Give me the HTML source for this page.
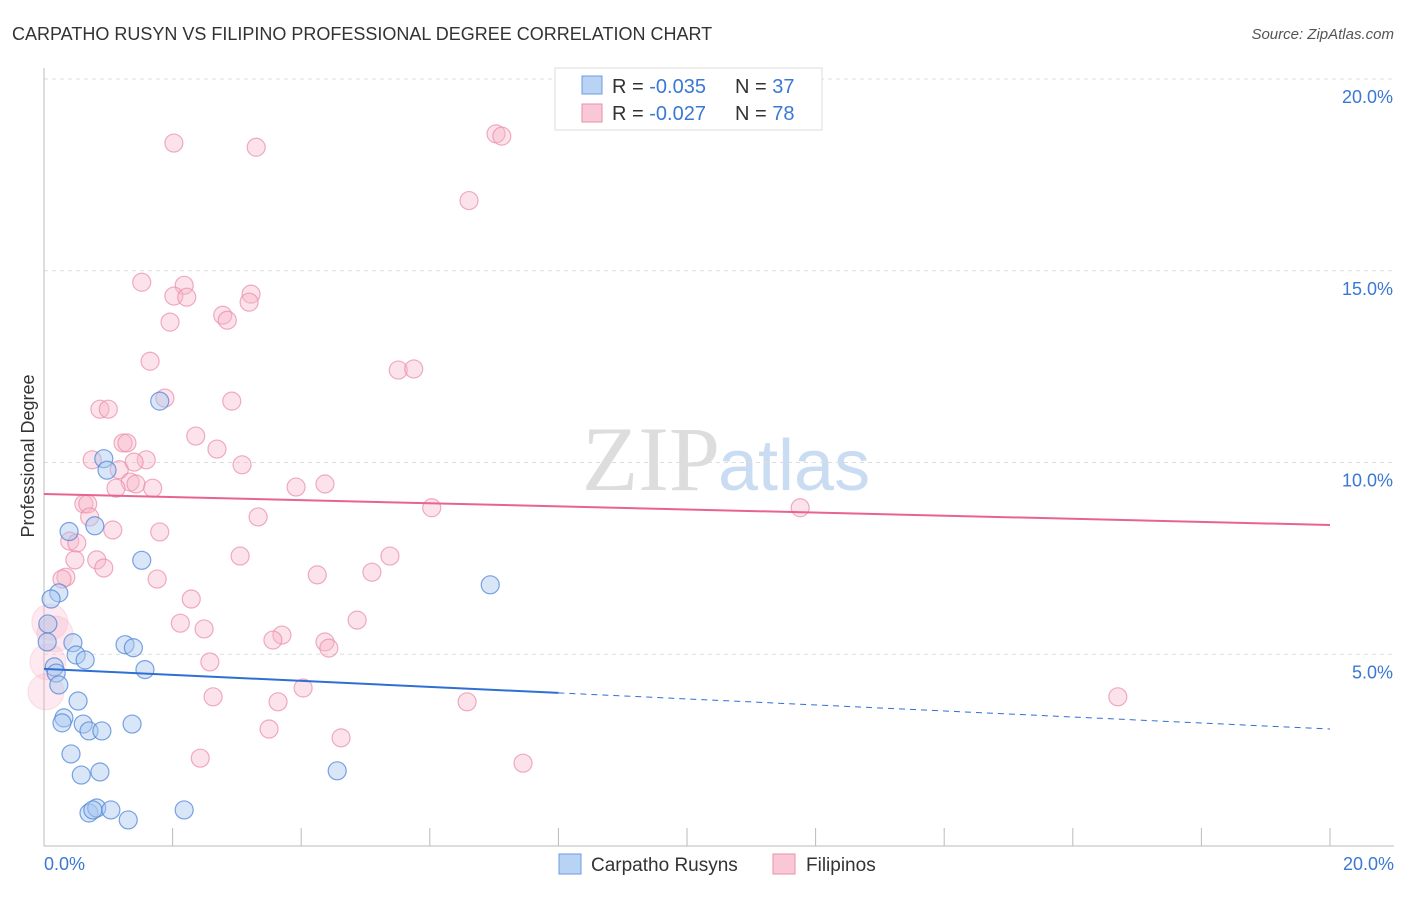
<!DOCTYPE html>
<html><head><meta charset="utf-8"><style>
body{margin:0;background:#fff;font-family:"Liberation Sans",sans-serif}
</style></head><body>
<svg width="1406" height="892" viewBox="0 0 1406 892" xmlns="http://www.w3.org/2000/svg">
<text x="12" y="40" font-size="18" fill="#333">CARPATHO RUSYN VS FILIPINO PROFESSIONAL DEGREE CORRELATION CHART</text>
<text x="1394" y="39" font-size="15" fill="#555" font-style="italic" text-anchor="end">Source: ZipAtlas.com</text>
<text x="720" y="490" font-size="92" fill="#ddd" font-family="Liberation Serif,serif" text-anchor="end">ZIP</text>
<text x="718" y="490" font-size="72" fill="#c9dcf2">atlas</text>
<g id="grid"></g>
<line x1="44" y1="68" x2="44" y2="846" stroke="#bbb"/>
<line x1="44" y1="846" x2="1394" y2="846" stroke="#bbb"/>
<g id="ticks"></g>
<g id="pts"></g>
<g id="trend"></g>
<text transform="translate(34,456) rotate(-90)" font-size="18" fill="#333" text-anchor="middle">Professional Degree</text>
<text x="44" y="870" font-size="18" fill="#3a78d4">0.0%</text>
<text x="1394" y="870" font-size="18" fill="#3a78d4" text-anchor="end">20.0%</text>
<g>
<rect x="555" y="68" width="267" height="62" fill="#fff" stroke="#ddd"/>
<rect x="582" y="76" width="20" height="18" fill="#b9d3f5" stroke="#6a9be0"/>
<rect x="582" y="104" width="20" height="18" fill="#f9c8d7" stroke="#ea8fac"/>
<text x="612" y="93" font-size="20" fill="#333">R = <tspan fill="#3a78d4">-0.035</tspan><tspan x="735">N = </tspan><tspan fill="#3a78d4">37</tspan></text>
<text x="612" y="120" font-size="20" fill="#333">R = <tspan fill="#3a78d4">-0.027</tspan><tspan x="735">N = </tspan><tspan fill="#3a78d4">78</tspan></text>
</g>
<g>
<rect x="559" y="854" width="22" height="20" fill="#b9d3f5" stroke="#6a9be0"/>
<text x="591" y="871" font-size="19" fill="#333">Carpatho Rusyns</text>
<rect x="773" y="854" width="22" height="20" fill="#f9c8d7" stroke="#ea8fac"/>
<text x="806" y="871" font-size="19" fill="#333">Filipinos</text>
</g>
</svg>
<script>
const blueX=[1.8,0.93,0.98,0.39,0.79,1.52,6.94,0.23,0.11,0.06,0.45,1.26,1.39,0.05,0.5,0.64,0.16,1.57,0.19,0.23,0.53,0.31,0.28,0.61,0.7,0.9,1.37,0.42,0.58,0.87,4.56,0.7,0.82,0.76,1.04,1.31,2.18];
const blueY=[11.6,10.1,9.8,8.2,8.35,7.45,6.81,6.6,6.44,5.79,5.3,5.25,5.17,5.32,4.98,4.85,4.67,4.6,4.51,4.2,3.78,3.34,3.21,3.18,3.0,3.0,3.18,2.4,1.85,1.93,1.96,0.86,0.99,0.94,0.94,0.68,0.94];
const pinkX=[2.02,3.3,7.03,7.12,6.61,1.52,2.18,2.02,2.22,3.22,3.19,2.78,2.85,1.96,1.65,5.51,5.75,1.88,2.92,0.87,1.0,1.23,1.29,2.36,2.69,0.75,1.59,1.4,1.17,3.08,1.34,1.43,1.12,1.69,3.92,4.37,0.62,0.68,0.71,3.33,6.03,11.76,1.07,1.8,0.40,0.51,0.82,0.48,3.05,0.93,5.38,0.34,0.28,1.76,4.25,5.1,2.29,4.87,2.12,2.49,3.7,3.56,4.37,4.43,2.58,16.7,2.63,4.03,3.64,6.58,3.5,4.62,2.43,7.45,0.09,0.17,0.06,0.03];
const pinkY=[18.33,18.22,18.57,18.51,16.83,14.7,14.62,14.34,14.31,14.39,14.18,13.84,13.71,13.66,12.64,12.41,12.44,11.68,11.6,11.39,11.39,10.51,10.51,10.69,10.35,10.07,10.07,10.01,9.81,9.94,9.49,9.44,9.33,9.33,9.36,9.44,8.92,8.92,8.58,8.58,8.82,8.82,8.24,8.19,7.95,7.9,7.46,7.46,7.56,7.25,7.56,7.01,6.96,6.96,7.07,7.14,6.44,5.89,5.81,5.66,5.5,5.37,5.32,5.16,4.8,3.89,3.89,4.12,3.76,3.76,3.05,2.82,2.29,2.16,5.84,5.53,4.8,4.02];
const pinkR=[0,0,0,0,0,0,0,0,0,0,0,0,0,0,0,0,0,0,0,0,0,0,0,0,0,0,0,0,0,0,0,0,0,0,0,0,0,0,0,0,0,0,0,0,0,0,0,0,0,0,0,0,0,0,0,0,0,0,0,0,0,0,0,0,0,0,0,0,0,0,0,0,0,0,1,1,1,1];
const pinkTrend=[9.18,8.37];
const blueTrend=[4.62,3.05];
const blueSolidEnd=8;
const yTicks=[5,10,15,20];
const NS='http://www.w3.org/2000/svg';
const X=v=>44+v/20*1286;
const Y=v=>846-v/20*767;
function mk(t,a,p){const e=document.createElementNS(NS,t);for(const k in a)e.setAttribute(k,a[k]);p.appendChild(e);return e;}
const grid=document.getElementById('grid');
yTicks.forEach(t=>{
 const l=mk('line',{x1:44,x2:1394,y1:Y(t),y2:Y(t),stroke:'#ddd','stroke-dasharray':'4,4'},grid);
 
 
 const tx=mk('text',{x:1393,y:Y(t)+24,'font-size':18,fill:'#3a78d4','text-anchor':'end'},grid);
 tx.textContent=t.toFixed(1)+'%';
 
 
});
const ticks=document.getElementById('ticks');
for(let i=0;i<=10;i++){
 const l=mk('line',{x1:X(i*2),x2:X(i*2),y1:828,y2:846,stroke:'#bbb'},ticks);
 
 
}
const pts=document.getElementById('pts');
pinkX.forEach((x,i)=>{
 const c=mk('circle',{cx:X(x),cy:Y(pinkY[i]),r:pinkR[i]?18:9,fill:'#f7b6ca','fill-opacity':pinkR[i]?0.3:0.4,stroke:'#e98aa8','stroke-opacity':pinkR[i]?0.2:0.7,'stroke-width':1.2},pts);
 
 
});
blueX.forEach((x,i)=>{
 const c=mk('circle',{cx:X(x),cy:Y(blueY[i]),r:9,fill:'#a9c8f0','fill-opacity':0.45,stroke:'#4f86d8','stroke-opacity':0.75,'stroke-width':1.2},pts);
 
 
});
const tr=document.getElementById('trend');
const pl=mk('line',{x1:X(0),y1:Y(pinkTrend[0]),x2:X(20),y2:Y(pinkTrend[1]),stroke:'#e8648f','stroke-width':2},tr);


const bAt=x=>blueTrend[0]+(blueTrend[1]-blueTrend[0])*x/20;
const bl=mk('line',{x1:X(0),y1:Y(bAt(0)),x2:X(blueSolidEnd),y2:Y(bAt(blueSolidEnd)),stroke:'#2f6fd3','stroke-width':2},tr);


const bd=mk('line',{x1:X(blueSolidEnd),y1:Y(bAt(blueSolidEnd)),x2:X(20),y2:Y(bAt(20)),stroke:'#2f6fd3','stroke-width':1,'stroke-dasharray':'6,5'},tr);


</script>
</body></html>
